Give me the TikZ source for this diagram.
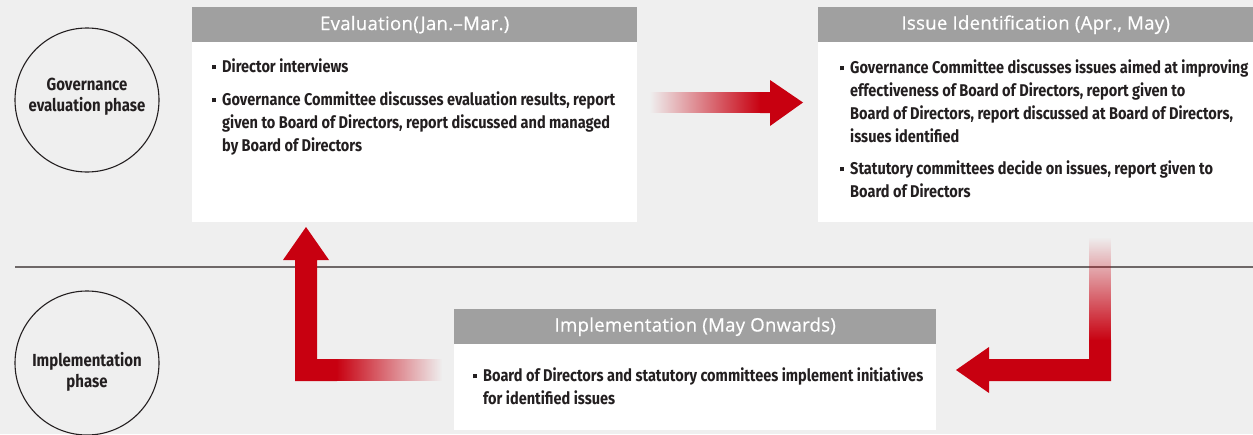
\documentclass[tikz,border=0pt]{standalone}
\usepackage{fontspec}
\usetikzlibrary{fadings}
\newfontfamily\condfont{Fira Sans}[FakeStretch=0.855]
\newfontfamily\headfont{Open Sans}[FakeBold=0.6, LetterSpace=1.5]
\definecolor{bg}{HTML}{EFEFEF}
\definecolor{hdr}{HTML}{A0A0A0}
\definecolor{ink}{HTML}{231F20}
\definecolor{brand}{HTML}{C80010}
\definecolor{rule}{HTML}{6E6868}
\newcommand\bsq{\makebox[10pt][l]{\rule[3pt]{4pt}{4pt}}}
\newcommand\bind{\hspace*{10pt}}
\tikzfading[name=fadein, left color=transparent!100, right color=transparent!0]
\tikzfading[name=fadeout, left color=transparent!0, right color=transparent!100]
\tikzfading[name=fadedown, top color=transparent!100, bottom color=transparent!0]
\tikzset{
  header/.style={fill=hdr, draw=none, anchor=north west, inner sep=0pt, minimum height=35pt,
    text=white, font=\headfont\fontsize{18.6}{22}\selectfont},
  body/.style={fill=white, draw=none, anchor=north west, inner sep=0pt},
  bodytext/.style={anchor=north west, inner sep=0pt, align=left, text=ink,
    font=\condfont\bfseries\fontsize{17}{23}\selectfont},
  phase/.style={circle, draw=ink, line width=1.1pt, minimum size=144pt, inner sep=0pt},
  phasetext/.style={align=center, inner sep=0pt, text=ink,
    font=\condfont\bfseries\fontsize{17.5}{21}\selectfont},
  divider/.style={draw=rule, line width=1.1pt},
  blockarrow/.style={fill=brand, draw=none}
}
\begin{document}
\begin{tikzpicture}[x=1pt,y=-1pt]
\useasboundingbox (0,0) rectangle (1253,434);
\fill[bg] (0,0) rectangle (1253,434);
\draw[divider] (15,267) -- (1253,267);

% phase circles
\node[phase] (gov) at (87,100) {};
\node[phasetext] (govtext) at (87,97) {Governance\\evaluation phase};
\node[phase] (imp) at (87,363) {};
\node[phasetext] (imptext) at (87,372) {Implementation\\phase};

% Evaluation box
\node[body, minimum width=445pt, minimum height=180pt] (evalbody) at (192,42) {};
\node[header, minimum width=445pt] (evalhead) at (192,7) {\raisebox{-3pt}{Evaluation(Jan.–Mar.)}};
\node[bodytext] (evaltext) at (212,58.5) {\bsq Director interviews\\[10pt]
\bsq Governance Committee discusses evaluation results, report\\
\bind given to Board of Directors, report discussed and managed\\
\bind by Board of Directors};

% Issue box
\node[body, minimum width=435pt, minimum height=180pt] (issbody) at (818,42) {};
\node[header, minimum width=435pt] (isshead) at (818,7) {\raisebox{-3pt}{Issue Identification (Apr., May)}};
\node[bodytext] (isstext) at (840,59.5) {\bsq Governance Committee discusses issues aimed at improving\\
\bind effectiveness of Board of Directors, report given to\\
\bind Board of Directors, report discussed at Board of Directors,\\
\bind issues identified\\[9pt]
\bsq Statutory committees decide on issues, report given to\\
\bind Board of Directors};

% Implementation box
\node[body, minimum width=482pt, minimum height=86pt] (impbody) at (454,344) {};
\node[header, minimum width=482pt] (imphead) at (454,309) {\raisebox{-3pt}{Implementation (May Onwards)}};
\node[bodytext] (imptext2) at (473,367.5) {\bsq Board of Directors and statutory committees implement initiatives\\
\bind for identified issues};

% arrow: evaluation -> issue
\fill[blockarrow, path fading=fadein] (650,92) rectangle (761,113);
\fill[blockarrow] (760,92) -- (770,92) -- (770,80) -- (803,102.5) -- (770,126) -- (770,113) -- (760,113) -- cycle;

% arrow: issue -> implementation
\fill[blockarrow, path fading=fadedown] (1089,237) rectangle (1111,341);
\fill[blockarrow] (1089,340) -- (1111,340) -- (1111,381) -- (989,381) -- (989,393) -- (956,370)
  -- (989,347) -- (989,359) -- (1089,359) -- cycle;

% arrow: implementation -> evaluation
\fill[blockarrow, path fading=fadeout] (336,359) rectangle (442,381);
\fill[blockarrow] (337,359) -- (317,359) -- (317,260) -- (329,260) -- (306,227) -- (283,260)
  -- (295,260) -- (295,381) -- (337,381) -- cycle;
\end{tikzpicture}
\end{document}
